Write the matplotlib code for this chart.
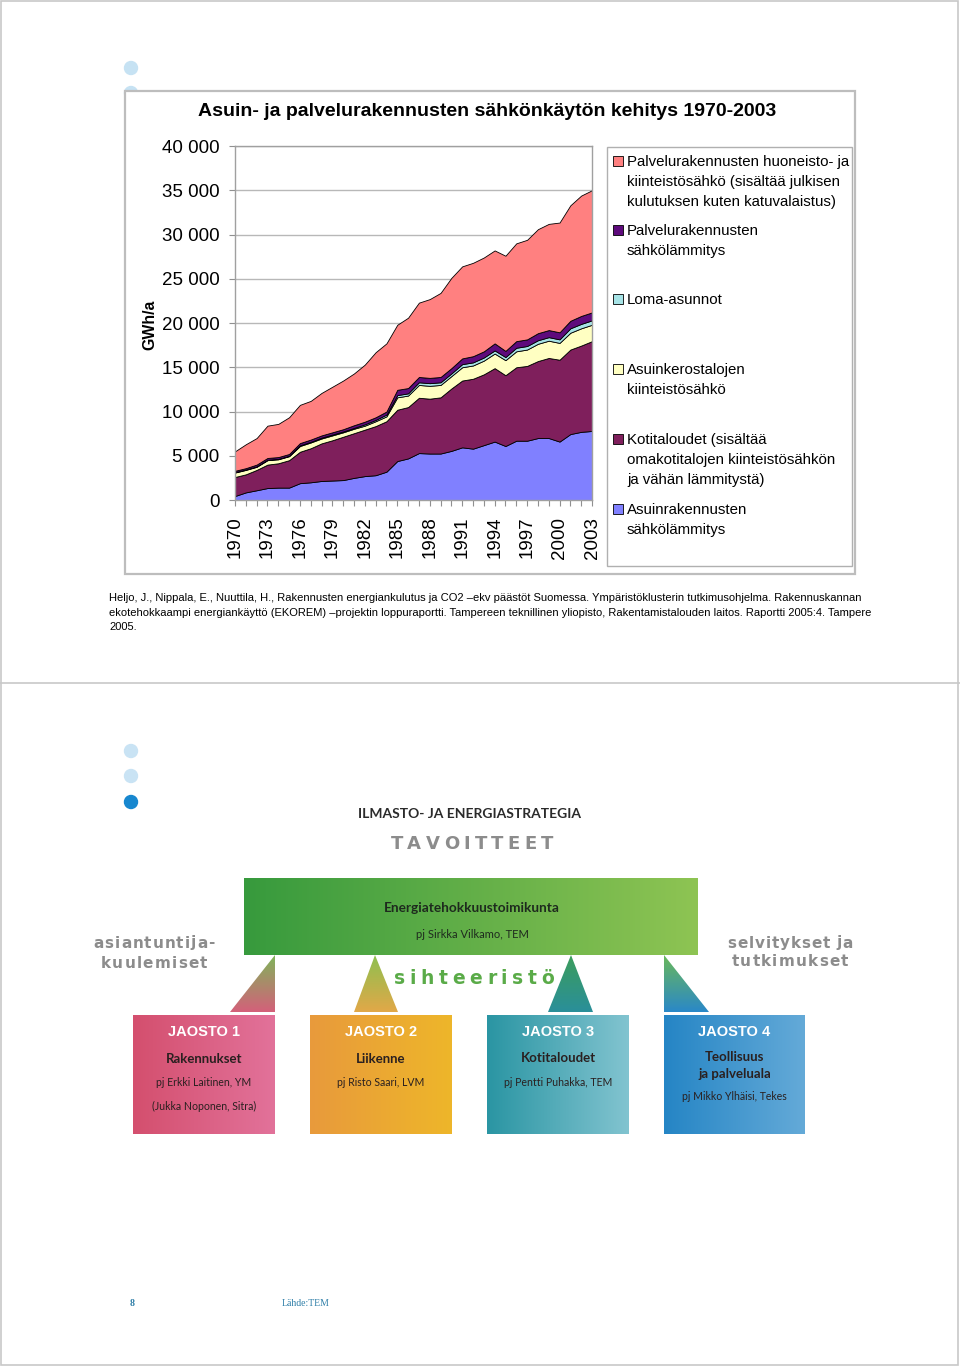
import matplotlib
matplotlib.use("Agg")
import matplotlib.pyplot as plt
import numpy as np
from matplotlib.patches import Rectangle, Polygon, Circle
from matplotlib.ticker import FuncFormatter, MultipleLocator, FixedLocator
from matplotlib.font_manager import FontProperties
from matplotlib.textpath import text_to_path

# ---------------- data ----------------
years = list(range(1970, 2004))
asuin_lammitys = [450, 860, 1100, 1350, 1400, 1400, 1900, 2000, 2150, 2200, 2250, 2500, 2700, 2800, 3200,
                  4400, 4700, 5300, 5250, 5250, 5550, 5950, 5800, 6200, 6600, 6100, 6700, 6700, 7000, 7000,
                  6600, 7450, 7700, 7800]
kotitaloudet = [2150, 2040, 2300, 2650, 2750, 3100, 3550, 3850, 4250, 4550, 4900, 5050, 5250, 5550, 5700,
                5800, 5800, 6250, 6200, 6350, 7050, 7550, 7900, 8000, 8300, 8000, 8300, 8450, 8700, 9050,
                9250, 9550, 9750, 10150]
kerrostalo = [500, 500, 350, 500, 450, 450, 650, 650, 550, 550, 500, 500, 450, 550, 550,
              1400, 1300, 1450, 1450, 1400, 1400, 1500, 1500, 1550, 1650, 1700, 1800, 1850, 1950, 1950,
              1900, 1900, 1950, 1850]
loma = [50, 50, 50, 50, 50, 50, 80, 80, 100, 100, 100, 100, 150, 150, 200,
        250, 250, 300, 300, 300, 300, 350, 350, 350, 350, 350, 400, 400, 400, 400,
        400, 500, 500, 500]
palvelu_lammitys = [150, 150, 200, 200, 200, 200, 250, 250, 250, 250, 250, 300, 300, 300, 350,
                    600, 600, 600, 600, 600, 600, 650, 700, 700, 800, 700, 750, 750, 800, 800,
                    800, 850, 900, 900]
palvelu_sahko = [2200, 2700, 3000, 3650, 3750, 4150, 4320, 4370, 4800, 5150, 5500, 5850, 6450, 7350, 7700,
                 7350, 7950, 8400, 8900, 9500, 10200, 10400, 10550, 10600, 10500, 10750, 11050, 11250, 11750,
                 12000, 12400, 13050, 13600, 13800]

series_labels = [
    "Palvelurakennusten huoneisto- ja\nkiinteistösähkö (sisältää julkisen\nkulutuksen kuten katuvalaistus)",
    "Palvelurakennusten\nsähkölämmitys",
    "Loma-asunnot",
    "Asuinkerostalojen\nkiinteistösähkö",
    "Kotitaloudet (sisältää\nomakotitalojen kiinteistösähkön\nja vähän lämmitystä)",
    "Asuinrakennusten\nsähkölämmitys",
]
title = "Asuin- ja palvelurakennusten sähkönkäytön kehitys 1970-2003"
ylabel = "GWh/a"
xtick_years = years[::3]
source_lines = [
    "Heljo, J., Nippala, E., Nuuttila, H., Rakennusten energiankulutus ja CO2 \u2013ekv päästöt Suomessa. Ympäristöklusterin tutkimusohjelma. Rakennuskannan",
    "ekotehokkaampi energiankäyttö (EKOREM) \u2013projektin loppuraportti. Tampereen teknillinen yliopisto, Rakentamistalouden laitos. Raportti 2005:4. Tampere",
    "2005.",
]
jaosto_titles = ["JAOSTO 1", "JAOSTO 2", "JAOSTO 3", "JAOSTO 4"]
jaosto_subjects = [["Rakennukset"], ["Liikenne"], ["Kotitaloudet"], ["Teollisuus", "ja palveluala"]]
jaosto_people = [["pj Erkki Laitinen, YM", "(Jukka Noponen, Sitra)"], ["pj Risto Saari, LVM"],
                 ["pj Pentti Puhakka, TEM"], ["pj Mikko Ylhäisi, Tekes"]]

# ---------------- figure ----------------
W, H = 960, 1367
fig = plt.figure(figsize=(W / 100, H / 100), dpi=100)
fig.patch.set_facecolor("white")

pg = fig.add_axes([0, 0, 1, 1], zorder=0)
pg.set_axis_off()

SANS = ["Liberation Sans", "DejaVu Sans"]

def px(x0, y0, x1, y1):
    return [x0 / W, 1 - y1 / H, (x1 - x0) / W, (y1 - y0) / H]

# page frame & divider
pg.add_patch(Rectangle((1, 1), 957, 1364, fill=False, edgecolor="#c8c8c8", lw=1.2, zorder=1))
pg.plot([0, W], [683, 683], color="#c8c8c8", lw=1.2, zorder=1)

# bullets
for (cx, cy, c) in [(131, 68, "#c6e2f3"), (131, 93, "#c6e2f3"),
                    (131, 751, "#c9e3f4"), (131, 776, "#c9e3f4"), (131, 802, "#1787cf")]:
    pg.add_patch(Circle((cx, cy), 6.5, color=c, zorder=1))

# chart container
pg.add_patch(Rectangle((125, 91), 730, 483, facecolor="white", edgecolor="#bdbdbd", lw=1.6, zorder=2))
pg.text(487, 111, title, ha="center", va="center", fontsize=14, fontweight="bold",
        family=SANS, color="black", zorder=3)
pg.text(150, 325, ylabel, ha="center", va="center", rotation=90, fontsize=11.4,
        fontweight="bold", family=SANS, zorder=3)

# ---------------- area chart ----------------
colors = ["#8080ff", "#7f1f5c", "#ffffc2", "#a6e3e6", "#5e0a7c", "#ff8080"]
ax = fig.add_axes(px(235, 146, 592, 500), zorder=3)
ax.stackplot(years, asuin_lammitys, kotitaloudet, kerrostalo, loma, palvelu_lammitys, palvelu_sahko,
             colors=colors, edgecolor="black", linewidth=0.6)
ax.set_xlim(1970, 2003)
ax.set_ylim(0, 40000)
ax.yaxis.set_major_locator(MultipleLocator(5000))
ax.yaxis.set_major_formatter(FuncFormatter(lambda v, p: f"{int(v):,}".replace(",", " ")))
ax.grid(axis="y", color="#b8b8b8", lw=1.0)
ax.set_axisbelow(True)
ax.xaxis.set_major_locator(FixedLocator(xtick_years))
ax.xaxis.set_minor_locator(FixedLocator(years))
ax.set_xticklabels([str(y) for y in xtick_years], rotation=90, fontsize=13.5, family=SANS)
for lab in ax.get_yticklabels():
    lab.set_fontsize(13.5)
    lab.set_family(SANS)
ax.tick_params(axis="x", which="both", direction="out", length=4, color="#909090", width=0.8, pad=8)
ax.tick_params(axis="y", direction="out", length=4, color="#909090", width=0.8, pad=7)
for s in ax.spines.values():
    s.set_color("#a0a0a0")
    s.set_linewidth(1.0)

# ---------------- legend ----------------
pg.add_patch(Rectangle((607, 147), 245, 419, facecolor="white", edgecolor="#b0b0b0", lw=1.0, zorder=3))
legend_tops = [161, 230, 299, 369, 439, 509]
legend_colors = colors[::-1]
for y, lab, c in zip(legend_tops, series_labels, legend_colors):
    pg.add_patch(Rectangle((613, y - 5), 10, 10, facecolor=c, edgecolor="black", lw=0.6, zorder=4))
    pg.text(627, y - 6, lab, ha="left", va="top", fontsize=10.8, family=SANS,
            linespacing=1.55, zorder=4)

# source reference
for i, line in enumerate(source_lines):
    pg.text(109, 598 + i * 14.5, line, ha="left", va="center", fontsize=8.0, family=SANS, zorder=3)

# ---------------- diagram ----------------
def hgrad(x0, y0, x1, y1, c0, c1, z=2):
    a = np.array(matplotlib.colors.to_rgb(c0))
    b = np.array(matplotlib.colors.to_rgb(c1))
    t = np.linspace(0, 1, 256)[None, :, None]
    img = a + (b - a) * t
    pg.imshow(img, extent=(x0, x1, y1, y0), aspect="auto", zorder=z, interpolation="bilinear")

def vgrad_tri(pts, c0, c1, z=2):
    a = np.array(matplotlib.colors.to_rgb(c0))
    b = np.array(matplotlib.colors.to_rgb(c1))
    t = np.linspace(0, 1, 256)[:, None, None]
    img = a + (b - a) * t
    xs = [p[0] for p in pts]
    ys = [p[1] for p in pts]
    im = pg.imshow(img, extent=(min(xs), max(xs), max(ys), min(ys)), aspect="auto", zorder=z,
                   interpolation="bilinear", origin="upper")
    poly = Polygon(pts, closed=True, facecolor="none", edgecolor="none", transform=pg.transData)
    pg.add_patch(poly)
    im.set_clip_path(poly)

def char_w(ch, fp):
    if ch == " ":
        return fp.get_size_in_points() * 0.3
    w, h, d = text_to_path.get_text_width_height_descent(ch, fp, ismath=False)
    return w

def spaced(xc, y, s, track, fp, color, z=3):
    ws = [char_w(c, fp) * 100 / 72 for c in s]
    total = sum(ws) + track * (len(s) - 1)
    x = xc - total / 2
    for c, w in zip(s, ws):
        pg.text(x, y, c, ha="left", va="center", fontproperties=fp, color=color, zorder=z)
        x += w + track

pg.text(470, 814, "ILMASTO- JA ENERGIASTRATEGIA", ha="center", va="center", fontsize=10,
        fontweight="bold", family=["Lato", "DejaVu Sans"], color="#2b2b2b")
fp_heavy = FontProperties(family="DejaVu Sans", weight="bold", size=13)
spaced(472, 844, "TAVOITTEET", 4.3, fp_heavy, "#8c8c8c")

hgrad(244, 878, 698, 955, "#379a3d", "#8ec453")
pg.text(472, 908, "Energiatehokkuustoimikunta", ha="center", va="center", fontsize=9.8,
        fontweight="bold", family=["Lato", "DejaVu Sans"], color="#1e2a1e", zorder=3)
pg.text(472, 934, "pj Sirkka Vilkamo, TEM", ha="center", va="center", fontsize=8,
        family=["Lato", "DejaVu Sans"], color="#1e2a1e", zorder=3)

fp_side = FontProperties(family="DejaVu Sans", weight="bold", size=11)
spaced(154, 943, "asiantuntija-", 1.0, fp_side, "#8c8c8c")
spaced(154, 963, "kuulemiset", 1.2, fp_side, "#8c8c8c")
spaced(790, 943, "selvitykset ja", 0.9, fp_side, "#8c8c8c")
spaced(790, 962, "tutkimukset", 1.2, fp_side, "#8c8c8c")
fp_sih = FontProperties(family="DejaVu Sans", weight="bold", size=13.5)
spaced(474, 979, "sihteeristö", 4.6, fp_sih, "#5aab48")

tris = [([(275, 955), (275, 1012), (230, 1012)], "#7fb55a", "#d4607a"),
        ([(375, 955), (398, 1012), (354, 1012)], "#8dc050", "#e2a848"),
        ([(571, 955), (593, 1012), (548, 1012)], "#3c9d5c", "#2a8f9a"),
        ([(664, 955), (709, 1012), (664, 1012)], "#6ab85a", "#2a88c8")]
for pts, c0, c1 in tris:
    vgrad_tri(pts, c0, c1)

box_x = [(133, 275), (310, 452), (487, 629), (664, 805)]
box_cols = [("#d44f6e", "#e2729a"), ("#e89a3c", "#eeb62a"), ("#2a95a3", "#82c4d0"), ("#2585c5", "#64aad8")]
subj_y = [[1059], [1059], [1058], [1057, 1074]]
ppl_y = [[1083, 1106], [1083], [1082], [1097]]
for i in range(4):
    x0, x1 = box_x[i]
    hgrad(x0, 1015, x1, 1134, box_cols[i][0], box_cols[i][1])
    xc = (x0 + x1) / 2
    pg.text(xc, 1032, jaosto_titles[i], ha="center", va="center", fontsize=10.5, fontweight="bold",
            family=SANS, color="white", zorder=3)
    for s, y in zip(jaosto_subjects[i], subj_y[i]):
        pg.text(xc, y, s, ha="center", va="center", fontsize=9.5, fontweight="bold",
                family=["Lato", "DejaVu Sans"], color="#2a2020", zorder=3)
    for s, y in zip(jaosto_people[i], ppl_y[i]):
        pg.text(xc, y, s, ha="center", va="center", fontsize=7.6,
                family=["Lato", "DejaVu Sans"], color="#2a2020", zorder=3)

# footer
pg.text(132, 1304, "8", ha="center", va="center", fontsize=7, fontweight="bold",
        family=["Liberation Serif", "DejaVu Serif"], color="#2f7fa8")
pg.text(306, 1304, "Lähde:TEM", ha="center", va="center", fontsize=7,
        family=["Liberation Serif", "DejaVu Serif"], color="#2f7fa8")

pg.set_xlim(0, W)
pg.set_ylim(H, 0)

fig.savefig("out.png", dpi=100)
